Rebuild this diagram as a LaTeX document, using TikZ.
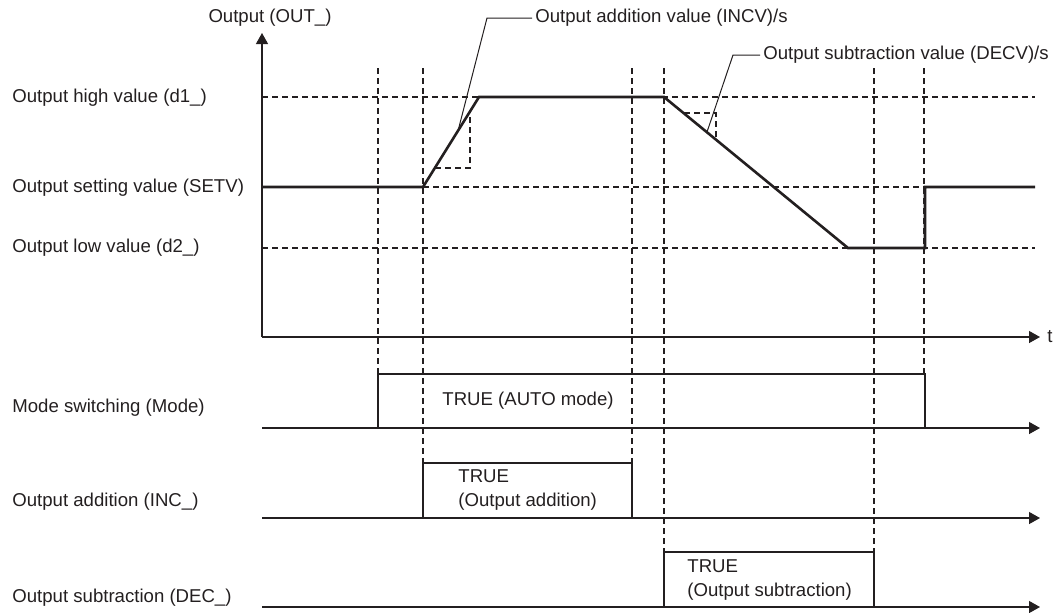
\documentclass[tikz,border=0pt]{standalone}
\usepackage{fontspec}
\setmainfont{Liberation Sans}
\usetikzlibrary{arrows.meta,positioning}
\definecolor{inkgray}{HTML}{231F20}
\tikzset{
  sigtext/.style={
    font=\fontsize{9.3}{12}\selectfont,
    text=inkgray,
    inner sep=0pt,
    anchor=west,
    align=left
  },
  guide/.style={draw=inkgray, line width=0.55pt, dash pattern=on 3pt off 2pt},
  wave/.style={draw=inkgray, line width=1.3pt, line join=miter},
  pulse/.style={draw=inkgray, line width=0.65pt},
  leader/.style={draw=inkgray, line width=0.5pt},
  axisarrow/.style={draw=inkgray, line width=0.65pt, -{Triangle[length=5.5pt,width=6pt]}}
}

\begin{document}
\begin{tikzpicture}[x=0.5pt, y=-0.5pt]
\useasboundingbox (0,0) rectangle (1055,612);

% axes of the output chart
\coordinate (origin) at (262,337);
\coordinate (ytop) at (262,33);
\coordinate (tend) at (1040,337);
\draw[axisarrow] (origin) -- (ytop);
\draw[axisarrow] (origin) -- (tend);
\node[sigtext] (tlabel) at (1047,337) {t};
\node[sigtext, anchor=center] (outlabel) at (270,18) {Output (OUT\_)};

% level and signal names
\node[sigtext] (highlbl) at (12,98) {Output high value (d1\_)};
\node[sigtext] (setvlbl) at (12,188) {Output setting value (SETV)};
\node[sigtext] (lowlbl) at (12,248) {Output low value (d2\_)};
\node[sigtext] (modelbl) at (12,408) {Mode switching (Mode)};
\node[sigtext] (inclbl) at (12,502) {Output addition (INC\_)};
\node[sigtext] (declbl) at (12,598) {Output subtraction (DEC\_)};

% guide lines
\draw[guide] (262,97) -- (1035,97);
\draw[guide] (423,187) -- (925,187);
\draw[guide] (262,248) -- (1035,248);
\foreach \x/\yend in {378/374,423/463,632/463,664/552,874/552,924/374}
  \draw[guide] (\x,68) -- (\x,\yend);

% output curve
\draw[wave] (262,187) -- (423,187) -- (479,97) -- (664,97) -- (848,248)
  -- (925,248) -- (925,187) -- (1035,187);

% rate triangles
\draw[guide] (435,168) -- (470,168) -- (470,112);
\draw[guide] (684,113) -- (716,113) -- (716,139);

% rate callouts
\coordinate (incpt) at (458,131);
\coordinate (decpt) at (707,132);
\node[sigtext] (incv) at (535,18) {Output addition value (INCV)/s};
\node[sigtext] (decv) at (763,55) {Output subtraction value (DECV)/s};
\draw[leader] ([xshift=-1.5pt]incv.west) -- (487,18) -- (incpt);
\draw[leader] ([xshift=-1.5pt]decv.west) -- (733,55) -- (decpt);

% Mode
\coordinate (modeA) at (262,428);
\coordinate (modeB) at (1040,428);
\draw[axisarrow] (modeA) -- (modeB);
\draw[pulse] (378,428) -- (378,374) -- (925,374) -- (925,428);
\node[sigtext] (modetrue) at (442,401) {TRUE (AUTO mode)};

% INC
\coordinate (incA) at (262,518);
\coordinate (incB) at (1040,518);
\draw[axisarrow] (incA) -- (incB);
\draw[pulse] (423,518) -- (423,463) -- (632,463) -- (632,518);
\node[sigtext] (inctrue) at (458,490) {TRUE\\(Output addition)};

% DEC
\coordinate (decA) at (262,607);
\coordinate (decB) at (1040,607);
\draw[axisarrow] (decA) -- (decB);
\draw[pulse] (664,607) -- (664,552) -- (874,552) -- (874,607);
\node[sigtext] (dectrue) at (687,580) {TRUE\\(Output subtraction)};
\end{tikzpicture}
\end{document}
